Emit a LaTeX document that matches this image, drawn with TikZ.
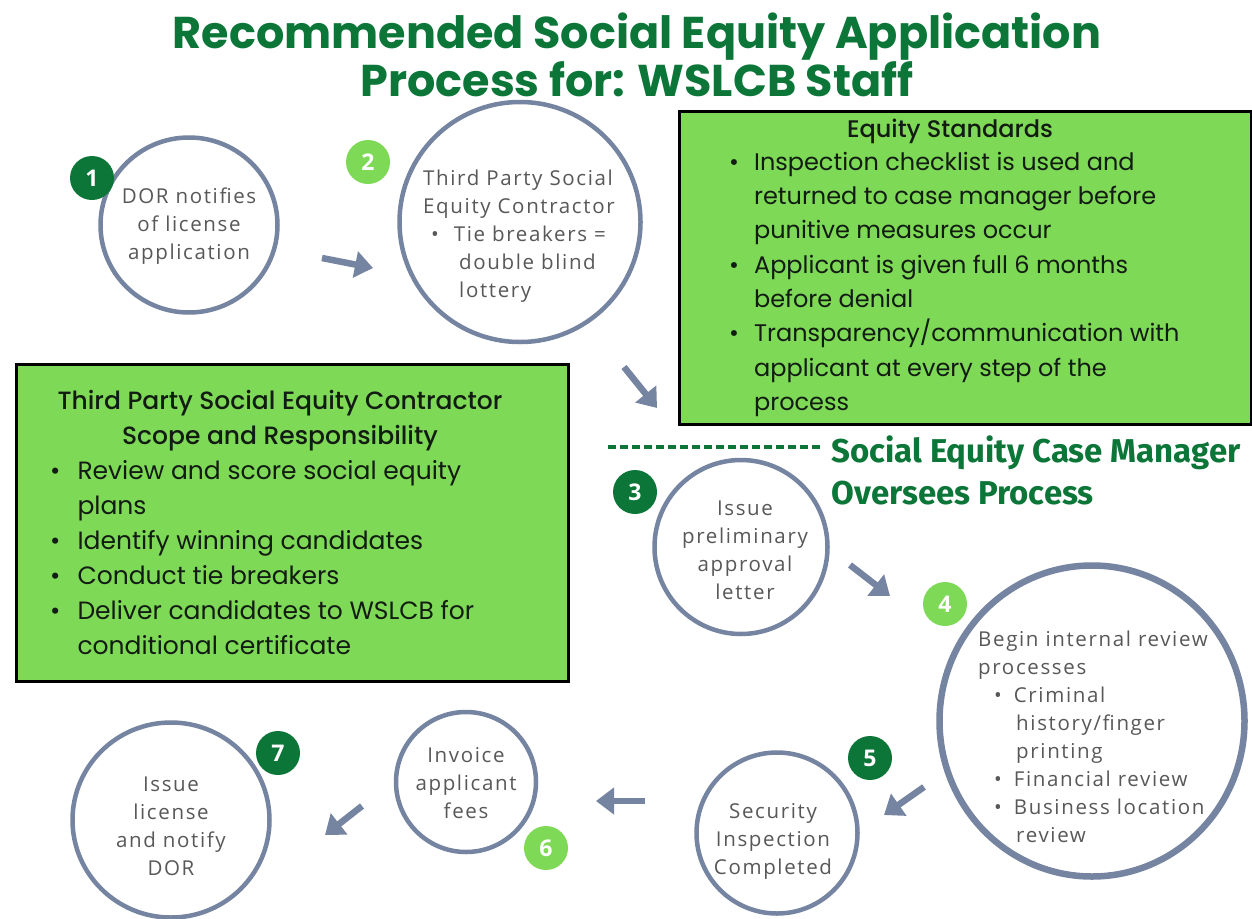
\documentclass[tikz,border=0pt]{standalone}
\usepackage{fontspec}
\usetikzlibrary{positioning,shapes.geometric,arrows.meta}
\setmainfont{Open Sans}
\newfontfamily\ringfont{Open Sans}[LetterSpace=8]
\newfontfamily\geofont{Poppins}
\newfontfamily\midfont{Poppins Medium}
\newfontfamily\casefont{Fira Sans}
\definecolor{ringblue}{RGB}{117,132,160}
\definecolor{darkgrn}{RGB}{12,118,56}
\definecolor{lightgrn}{RGB}{126,217,87}
\definecolor{textgray}{RGB}{88,88,88}
\definecolor{panelink}{RGB}{18,28,18}
\begin{document}
\begin{tikzpicture}[x=1pt,y=-1pt,
ring/.style={ellipse,draw=ringblue,line width=4.5pt,fill=white,inner sep=0pt},
badge/.style={circle,minimum size=44pt,inner sep=0pt,text=white,font=\fontsize{23}{23}\selectfont\bfseries},
flow/.style={draw=ringblue,line width=6.5pt,-{Triangle[length=18pt,width=26pt]}},
panel/.style={draw=black,line width=3pt,fill=lightgrn,inner sep=0pt,anchor=north west},
ringtext/.style={text=textgray,font=\ringfont\fontsize{20.5}{28}\selectfont,inner sep=0pt},
paneltext/.style={text=panelink,font=\geofont\fontsize{24}{34.3}\selectfont,inner sep=0pt,anchor=north west}]
\fill[white] (0,0) rectangle (1252,918);
\useasboundingbox (0,0) rectangle (1252,918);
\node[text=darkgrn,align=center,font=\geofont\bfseries\fontsize{44.5}{38}\selectfont] (title) at (637,55) {Recommended Social Equity Application\\Process for: WSLCB Staff};
\node[ring,minimum width=177pt,minimum height=175pt] (dor) at (189,225) {};
\node[ring,minimum width=241pt,minimum height=240pt] (contractor) at (520,222) {};
\node[ring,minimum width=173pt,minimum height=174pt] (letter) at (741,547) {};
\node[ring,line width=6.5pt,minimum width=305pt,minimum height=311pt] (review) at (1092,721) {};
\node[ring,minimum width=161pt,minimum height=161pt] (inspect) at (777,833) {};
\node[ring,minimum width=140pt,minimum height=140pt] (invoice) at (466,782) {};
\node[ring,minimum width=197pt,minimum height=195pt] (issue) at (171,820) {};
\node[ringtext,align=center] (dortext) at (189,226) {DOR notifies\\of license\\application};
\node[ringtext,align=left,anchor=north west] (contractortext) at (423,170) {Third Party Social\\Equity Contractor\\\hspace*{8pt}\textbullet\hspace{15pt}Tie breakers =\\\hspace*{36pt}double blind\\\hspace*{36pt}lottery};
\node[ringtext,align=center] (lettertext) at (745,550) {Issue\\preliminary\\approval\\letter};
\node[ringtext,align=left,anchor=north west] (reviewtext) at (978,631) {Begin internal review\\processes\\\hspace*{16pt}\textbullet\hspace{12pt}Criminal\\\hspace*{38pt}history/finger\\\hspace*{38pt}printing\\\hspace*{16pt}\textbullet\hspace{12pt}Financial review\\\hspace*{16pt}\textbullet\hspace{12pt}Business location\\\hspace*{38pt}review};
\node[ringtext,align=center] (inspecttext) at (773,841) {Security\\Inspection\\Completed};
\node[ringtext,align=center] (invoicetext) at (466,783) {Invoice\\applicant\\fees};
\node[ringtext,align=center] (issuetext) at (171,826) {Issue\\license\\and notify\\DOR};
\node[badge,fill=darkgrn] (n1) at (92,178) {1};
\node[badge,fill=lightgrn] (n2) at (368,162) {2};
\node[badge,fill=darkgrn] (n3) at (635,492) {3};
\node[badge,fill=lightgrn] (n4) at (945,604) {4};
\node[badge,fill=darkgrn] (n5) at (870,758) {5};
\node[badge,fill=lightgrn] (n6) at (546,848) {6};
\node[badge,fill=darkgrn] (n7) at (278,753) {7};
\node[panel,minimum width=572pt,minimum height=313pt] (standards) at (678,110) {};
\node[text=panelink,font=\midfont\fontsize{24}{24}\selectfont] (standardshead) at (950,131) {Equity Standards};
\node[paneltext] (standardslist) at (729,146) {\begin{tabular}{@{}l@{\hspace{15pt}}l@{}}
\textbullet & Inspection checklist is used and\\
 & returned to case manager before\\
 & punitive measures occur\\
\textbullet & Applicant is given full 6 months\\
 & before denial\\
\textbullet & Transparency/communication with\\
 & applicant at every step of the\\
 & process
\end{tabular}};
\node[panel,minimum width=552pt,minimum height=317pt] (scope) at (15,363) {};
\node[text=panelink,align=center,font=\midfont\fontsize{25}{35}\selectfont] (scopehead) at (280,421) {Third Party Social Equity Contractor\\Scope and Responsibility};
\node[paneltext,font=\geofont\fontsize{25}{35}\selectfont] (scopelist) at (50,455) {\begin{tabular}{@{}l@{\hspace{17pt}}l@{}}
\textbullet & Review and score social equity\\
 & plans\\
\textbullet & Identify winning candidates\\
\textbullet & Conduct tie breakers\\
\textbullet & Deliver candidates to WSLCB for\\
 & conditional certificate
\end{tabular}};
\node[text=darkgrn,align=left,anchor=west,font=\casefont\bfseries\fontsize{33}{42}\selectfont] (manager) at (828,470) {Social Equity Case Manager\\Oversees Process};
\coordinate (dash) at (608,447);
\draw[darkgrn,line width=3.2pt,dash pattern=on 8pt off 4pt] (dash) -- (822,447);
\coordinate (a1) at (322,258); \coordinate (b1) at (373,268);
\coordinate (a2) at (624,367); \coordinate (b2) at (657,408);
\coordinate (a3) at (850,565); \coordinate (b3) at (890,596);
\coordinate (a4) at (924,787); \coordinate (b4) at (884,815);
\coordinate (a5) at (645,801); \coordinate (b5) at (596,801);
\coordinate (a6) at (362,806); \coordinate (b6) at (325,835);
\draw[flow] (a1) -- (b1);
\draw[flow] (a2) -- (b2);
\draw[flow] (a3) -- (b3);
\draw[flow] (a4) -- (b4);
\draw[flow] (a5) -- (b5);
\draw[flow] (a6) -- (b6);
\end{tikzpicture}
\end{document}
